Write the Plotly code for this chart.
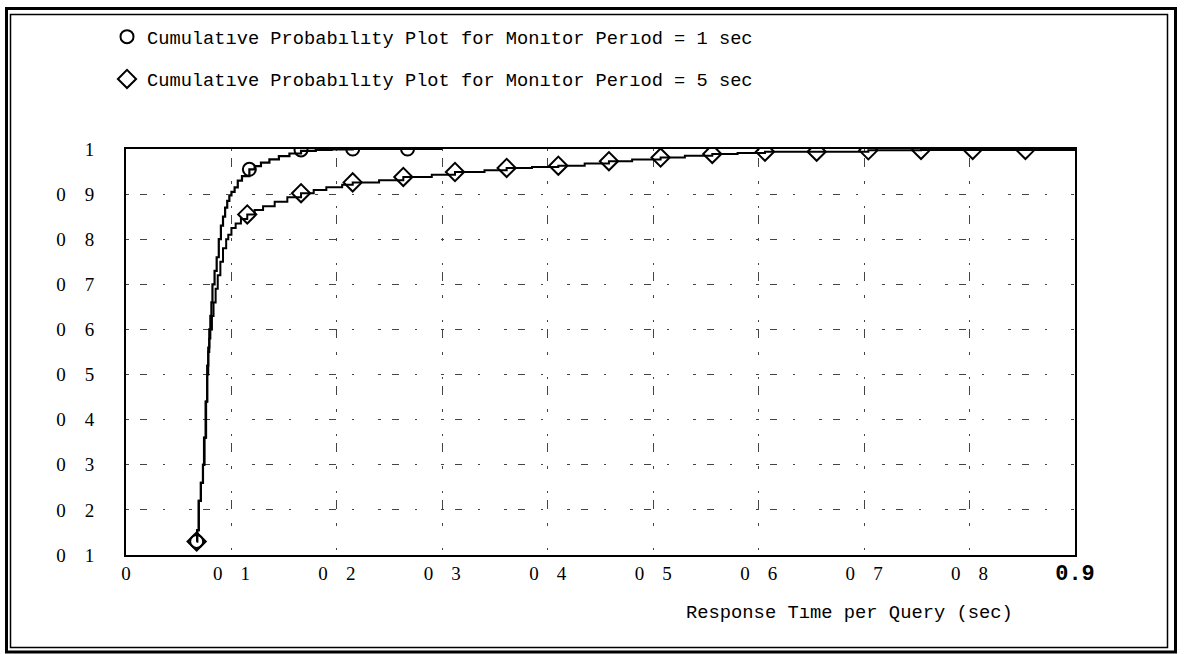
import plotly.graph_objects as go

# Empirical cumulative distribution of response time per query,
# step breakpoints for the two monitor periods.
t_1s = [0.067, 0.0675, 0.069, 0.071, 0.073, 0.074, 0.0755, 0.077, 0.078, 0.079,
        0.080, 0.081, 0.082, 0.084, 0.086, 0.088, 0.090, 0.092, 0.094, 0.096,
        0.098, 0.100, 0.103, 0.106, 0.110, 0.117, 0.122, 0.128, 0.136, 0.145,
        0.155, 0.166, 0.180, 0.195, 0.215, 0.30]
p_1s = [0.13, 0.155, 0.22, 0.26, 0.30, 0.36, 0.44, 0.52, 0.56, 0.60,
        0.63, 0.66, 0.70, 0.73, 0.76, 0.80, 0.83, 0.85, 0.87, 0.885,
        0.897, 0.905, 0.915, 0.93, 0.94, 0.955, 0.962, 0.97, 0.977, 0.984,
        0.99, 0.996, 0.998, 0.999, 1.0, 1.0]

t_5s = [0.067, 0.0675, 0.069, 0.071, 0.073, 0.0745, 0.076, 0.077, 0.078, 0.079,
        0.080, 0.0815, 0.083, 0.085, 0.087, 0.0895, 0.092, 0.095, 0.097, 0.100,
        0.104, 0.109, 0.115, 0.122, 0.130, 0.141, 0.153, 0.166, 0.178, 0.190,
        0.205, 0.215, 0.240, 0.263, 0.290, 0.312, 0.340, 0.361, 0.385, 0.410,
        0.435, 0.458, 0.480, 0.507, 0.530, 0.556, 0.580, 0.606, 0.655, 0.704,
        0.754, 0.803, 0.853, 0.90]
p_5s = [0.13, 0.155, 0.22, 0.26, 0.30, 0.36, 0.44, 0.50, 0.55, 0.58,
        0.60, 0.63, 0.66, 0.69, 0.72, 0.75, 0.78, 0.80, 0.81, 0.825,
        0.835, 0.845, 0.855, 0.865, 0.873, 0.883, 0.893, 0.902, 0.909, 0.915,
        0.921, 0.926, 0.931, 0.938, 0.943, 0.949, 0.953, 0.958, 0.960, 0.963,
        0.968, 0.973, 0.977, 0.981, 0.985, 0.989, 0.991, 0.994, 0.994, 0.997,
        0.998, 0.998, 0.998, 1.0]

# Plot symbols placed along each curve
mark_t_1s = [0.067, 0.117, 0.166, 0.215, 0.267]
mark_p_1s = [0.13, 0.955, 0.998, 1.0, 1.0]
mark_t_5s = [0.067, 0.115, 0.166, 0.215, 0.263, 0.312, 0.361, 0.410, 0.458,
             0.507, 0.556, 0.606, 0.655, 0.704, 0.754, 0.803, 0.853]
mark_p_5s = [0.13, 0.855, 0.902, 0.926, 0.938, 0.949, 0.958, 0.963, 0.973,
             0.981, 0.989, 0.994, 0.994, 0.997, 0.998, 0.998, 0.998]

legend_1s = "Cumulat\u0131ve Probab\u0131l\u0131ty Plot for Mon\u0131tor Per\u0131od = 1 sec"
legend_5s = "Cumulat\u0131ve Probab\u0131l\u0131ty Plot for Mon\u0131tor Per\u0131od = 5 sec"
x_title = "Response T\u0131me per Query (sec)"

x_ticks = [0.0, 0.1, 0.2, 0.3, 0.4, 0.5, 0.6, 0.7, 0.8, 0.9]
x_labels = ["0", "0 1", "0 2", "0 3", "0 4", "0 5", "0 6", "0 7", "0 8", "0.9"]
y_ticks = [0.1, 0.2, 0.3, 0.4, 0.5, 0.6, 0.7, 0.8, 0.9, 1.0]
y_labels = ["0 1", "0 2", "0 3", "0 4", "0 5", "0 6", "0 7", "0 8", "0 9", "1"]

W, H = 1184, 654
ML, MR, MT, MB = 126, 109, 149, 99
PW, PH = W - ML - MR, H - MT - MB

MONO = "Liberation Mono, Courier New, monospace"
SERIF = "Liberation Serif, Times New Roman, serif"


def wide(label, gap):
    # widen the gap between the two digits of a tick label
    return label.replace(" ", gap)


x_text = [wide(s, "\u00a0\u00a0\u00a0\u2009") for s in x_labels[:-1]]
x_text.append('<span style="font-family:Liberation Mono;font-size:22px"><b>'
              + x_labels[-1] + '</b></span>')
y_text = [wide(s, "\u00a0\u00a0\u00a0\u00a0") for s in y_labels]

fig = go.Figure()

fig.add_trace(go.Scatter(x=t_5s, y=p_5s, mode="lines", line_shape="hv",
                         line=dict(color="black", width=2), showlegend=False,
                         hoverinfo="skip"))
fig.add_trace(go.Scatter(x=t_1s, y=p_1s, mode="lines", line_shape="hv",
                         line=dict(color="black", width=2.2), showlegend=False,
                         hoverinfo="skip"))
fig.add_trace(go.Scatter(x=mark_t_1s, y=mark_p_1s, mode="markers", name=legend_1s,
                         legendgroup="a",
                         marker=dict(symbol="circle-open", size=13,
                                     color="black", line=dict(width=2, color="black"))))
fig.add_trace(go.Scatter(x=mark_t_5s, y=mark_p_5s, mode="markers", name=legend_5s,
                         legendgroup="b",
                         marker=dict(symbol="diamond-open", size=14,
                                     color="black", line=dict(width=2, color="black"))))


def px_x(px):
    return (px - ML) / PW


def px_y(py):
    return (H - MB - py) / PH


shapes = [
    # outer heavy frame and inner thin frame around the figure
    dict(type="rect", xref="paper", yref="paper",
         x0=px_x(6.5), x1=px_x(1175.5), y0=px_y(652), y1=px_y(8.5),
         line=dict(color="black", width=3)),
    dict(type="rect", xref="paper", yref="paper",
         x0=px_x(10.5), x1=px_x(1167.5), y0=px_y(647.5), y1=px_y(14.5),
         line=dict(color="black", width=1.5)),
]

fig.update_layout(
    width=W, height=H,
    margin=dict(l=ML, r=MR, t=MT, b=MB, pad=0),
    paper_bgcolor="white", plot_bgcolor="white",
    shapes=shapes,
    legend=dict(x=px_x(107), y=px_y(18), xanchor="left", yanchor="top",
                xref="paper", yref="paper",
                font=dict(family=MONO, size=18.7, color="black"),
                bgcolor="rgba(0,0,0,0)", borderwidth=0,
                tracegroupgap=15, itemclick=False),
    annotations=[dict(text=x_title, xref="paper", yref="paper",
                      x=px_x(849), y=px_y(613), xanchor="center", yanchor="middle",
                      showarrow=False,
                      font=dict(family=MONO, size=18.8, color="black"))],
    xaxis=dict(range=[0, 0.9], tickvals=x_ticks, ticktext=x_text,
               showline=True, mirror=True, linecolor="black", linewidth=2,
               showgrid=True, gridcolor="#444", gridwidth=1,
               griddash="2px,7px,9px,14px,3px,22px",
               ticks="", zeroline=False,
               tickfont=dict(family=SERIF, size=19, color="black")),
    yaxis=dict(range=[0.1, 1.0], tickvals=y_ticks, ticktext=y_text,
               showline=True, mirror=True, linecolor="black", linewidth=2,
               showgrid=True, gridcolor="#444", gridwidth=1,
               griddash="3px,11px,7px,16px,2px,24px",
               ticks="", zeroline=False, ticklabelstandoff=26,
               tickfont=dict(family=SERIF, size=19, color="black")),
)

fig.write_html("out.html")
